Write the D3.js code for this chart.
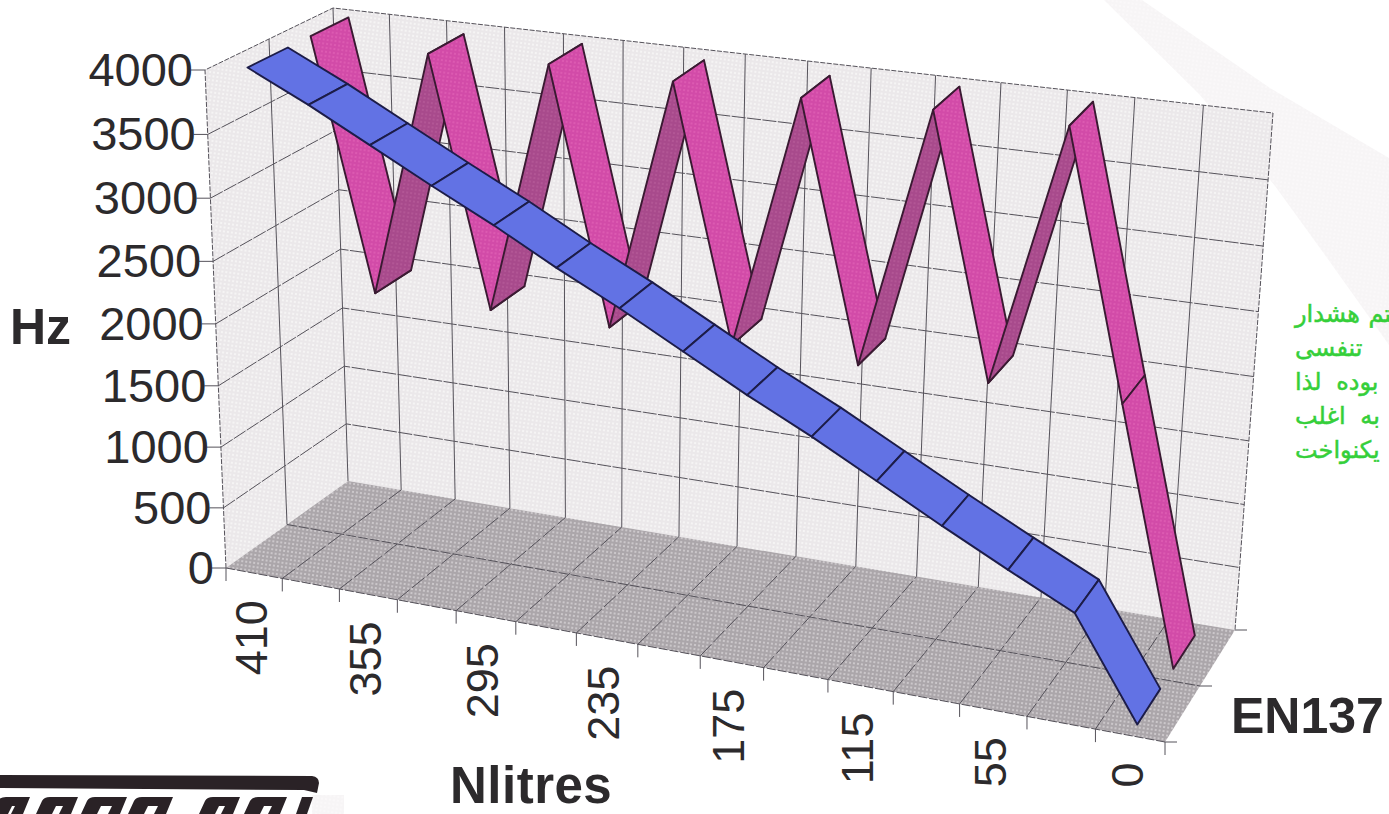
<!DOCTYPE html>
<html>
<head>
<meta charset="utf-8">
<script src="https://cdn.jsdelivr.net/npm/d3@7"></script>
<style>
  html, body { margin: 0; padding: 0; background: #fff; overflow: hidden; }
  text { font-family: "Liberation Sans", Arial, sans-serif; fill: #2c2a2c; }
  .title { font-weight: bold; font-size: 50px; }
  .note { font-family: "DejaVu Sans", sans-serif; font-size: 24px; fill: #35cf3a; stroke: #35cf3a; stroke-width: 0.5; direction: rtl; }
</style>
</head>
<body>
<svg id="chart" width="1389" height="814"></svg>
<script>
"use strict";

// values
const xLabels = ["410", "355", "295", "235", "175", "115", "55", "0"];
const pinkValues = [4000, 1985, 3970, 1985, 4000, 1985, 3980, 1990, 3970, 1975, 4000, 1985, 4000, 1975, 0];
const blueValues = [4000, 3770, 3520, 3270, 3030, 2770, 2530, 2270, 2010, 1770, 1510, 1250, 1000, 760, 0];
const noteLines = ["سیستم هشدار", "تنفسی", "بوده لذا", "به اغلب", "یکنواخت"];
const noteY = [322, 356, 390, 424, 458];
const noteGap = [1, 0, 7, 7, 0];

const nCat = pinkValues.length;
const width = 1389, height = 814;

// the eight corners of the 3d box, as seen in the picture
const box = {
  f0: [226, 568], f1: [1165, 742], b0: [348, 481], b1: [1235, 630],
  tf0: [205, 70], tf1: [1205, 197], tb0: [333, 8], tb1: [1273, 113]
};
const xPersp = 1.12, yPersp = 1.04;

const xScale = d3.scaleLinear().domain([0, nCat]).range([0, 1]);
const yScale = d3.scaleLinear().domain([0, 4000]).range([0, 1]);
const lerp = (a, b, t) => [a[0] + (b[0] - a[0]) * t, a[1] + (b[1] - a[1]) * t];
const foreshorten = (t, k) => t / (t + k * (1 - t));

// xc: category position, v: Hz, d: depth 0 (front) .. 1 (back)
function project(xc, v, d) {
  let u = foreshorten(xScale(xc), xPersp);
  let floorP = lerp(lerp(box.f0, box.f1, u), lerp(box.b0, box.b1, u), d);
  let topP = lerp(lerp(box.tf0, box.tf1, u), lerp(box.tb0, box.tb1, u), d);
  return lerp(floorP, topP, foreshorten(yScale(v), yPersp));
}

const svg = d3.select("#chart");
const poly = d3.line();

const defs = svg.append("defs");
function dots(id, base, dot) {
  let p = defs.append("pattern").attr("id", id).attr("width", 4).attr("height", 4)
    .attr("patternUnits", "userSpaceOnUse").attr("patternTransform", "rotate(8)");
  p.append("rect").attr("width", 4).attr("height", 4).attr("fill", base);
  p.append("circle").attr("cx", 2).attr("cy", 2).attr("r", 1).attr("fill", dot);
}
dots("wallDots", "#ebe8ea", "#f9f8f8");
dots("floorDots", "#aba6aa", "#d6d3d5");
dots("pinkDots", "#d24ba8", "#e05fb4");
dots("plumDots", "#a84a8c", "#b65a98");
dots("bandDots", "#f7f5f6", "#fbfafb");

// faint band from the page behind the chart
svg.append("path")
  .attr("d", "M1104,0 L1142,0 L1270,88 L1389,158 L1389,345 L1330,262 L1275,186 L1200,95 Z")
  .attr("fill", "url(#bandDots)");

// walls and floor
svg.append("path").attr("d", poly([box.f0, box.b0, box.tb0, box.tf0]) + "Z").attr("fill", "url(#wallDots)");
svg.append("path").attr("d", poly([box.b0, box.b1, box.tb1, box.tb0]) + "Z").attr("fill", "url(#wallDots)");
svg.append("path").attr("d", poly([box.f0, box.f1, box.b1, box.b0]) + "Z").attr("fill", "url(#floorDots)");

const grid = svg.append("g").attr("fill", "none").attr("stroke", "#55525a").attr("stroke-width", 1);
function gridLine(pts, dash) {
  grid.append("path").attr("d", poly(pts)).attr("stroke-dasharray", dash || null);
}

// outer edges of the walls
gridLine([project(0, 0, 0), project(0, 4000, 0), project(0, 4000, 1), project(nCat, 4000, 1), project(nCat, 0, 1)], "5 1.5");
gridLine([project(0, 0, 1), project(0, 4000, 1)]);
gridLine([project(0, 0, 0), project(nCat, 0, 0)], "9 2");

yScale.ticks(8).forEach(v => {
  if (v > 0 && v < 4000) {
    gridLine([project(0, v, 0), project(0, v, 1), project(nCat, v, 1)], "14 1.5");
  }
  let p = project(0, v, 0);
  gridLine([[p[0] - 14, p[1]], p]);
});

gridLine([project(0, 0, 0.5), project(0, 4000, 0.5)]);
gridLine([project(0, 0, 0.5), project(nCat, 0, 0.5)], "10 2");
d3.range(1, nCat).forEach(i => {
  gridLine([project(i, 0, 1), project(i, 4000, 1)]);
  gridLine([project(i, 0, 0), project(i, 0, 1)], "16 3");
});
d3.range(0, nCat + 1).forEach(i => {
  let p = project(i, 0, 0);
  gridLine([p, [p[0], p[1] + 13]]);
});
[0, 0.5, 1].forEach(d => {
  let p = project(nCat, 0, d);
  gridLine([p, [p[0] + 12, p[1]]]);
});

// one ribbon, one polygon per category step, left to right
function ribbon(values, d0, d1, fillFor, stroke) {
  let g = svg.append("g").attr("stroke", stroke).attr("stroke-width", 1.9).attr("stroke-linejoin", "round");
  d3.pairs(values).forEach((pair, i) => {
    let x0 = i + 0.5, x1 = i + 1.5;
    g.append("path")
      .attr("d", poly([project(x0, pair[0], d0), project(x1, pair[1], d0),
        project(x1, pair[1], d1), project(x0, pair[0], d1)]) + "Z")
      .attr("fill", fillFor(pair));
  });
}
ribbon(pinkValues, 0.6, 0.9, p => p[1] > p[0] ? "url(#plumDots)" : "url(#pinkDots)", "#3a1a32");
ribbon(blueValues, 0.1, 0.42, () => "#6272e4", "#1c1c48");

// axis labels
yScale.ticks(8).forEach(v => {
  let p = project(0, v, 0);
  svg.append("text")
    .attr("x", p[0] - 12).attr("y", p[1] + 16)
    .attr("text-anchor", "end").attr("font-size", 47)
    .text(v);
});
xLabels.forEach((label, i) => {
  let p = project(i * 2 + 0.5, 0, 0);
  svg.append("text")
    .attr("transform", `translate(${p[0] + 12.5},${p[1] + 27}) rotate(-90)`)
    .attr("text-anchor", "end").attr("font-size", 45)
    .text(label);
});

svg.append("text").attr("class", "title").attr("x", 10).attr("y", 344).text("Hz");
svg.append("text").attr("class", "title").attr("x", 450).attr("y", 803)
  .style("font-size", "51px").style("letter-spacing", "0.5px").text("Nlitres");
svg.append("text").attr("class", "title").attr("x", 1231).attr("y", 733).text("EN137");

// green note, runs off the right edge of the page
noteLines.forEach((line, i) => {
  svg.append("text").attr("class", "note")
    .attr("x", 1295).attr("y", noteY[i])
    .attr("text-anchor", "end")
    .style("word-spacing", noteGap[i] + "px")
    .text(line);
});

// cut-off logo in the corner
svg.append("rect").attr("x", 312).attr("y", 795).attr("width", 32).attr("height", 19).attr("fill", "url(#bandDots)");
const logo = svg.append("g").attr("fill", "#2a2226");
logo.append("path").attr("d", "M0,775 L312,776 Q319,777 319,783 L317,793 L304,790 L0,788 Z");
logo.append("path").attr("d", "M296,814 L302,797 L313,797 L307,814 Z");
[[-8, 38], [36, 42], [81, 46], [128, 45], [199, 41], [244, 43]].forEach(s => {
  let x0 = s[0], x1 = s[0] + s[1];
  logo.append("path")
    .attr("d", `M${x0},814 L${x0 + 6},801 Q${x0 + 8},797 ${x0 + 14},797 L${x1},797 L${x1 - 7},814 L${x1 - 19},814 L${x1 - 15},806 L${x0 + 20},806 L${x0 + 16},814 Z`);
});
</script>
</body>
</html>
